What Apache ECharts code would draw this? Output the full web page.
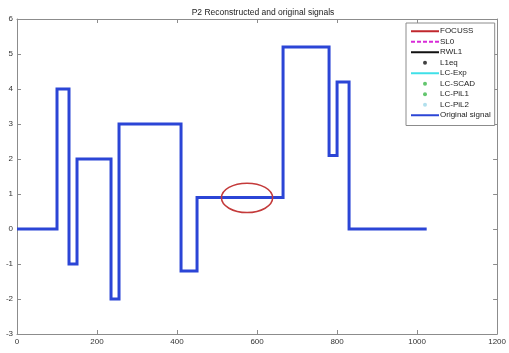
<!DOCTYPE html>
<html>
<head>
<meta charset="utf-8">
<script src="https://cdn.jsdelivr.net/npm/echarts@6/dist/echarts.min.js"></script>
<style>
  html, body { margin: 0; padding: 0; background: #fff; }
  #chart { width: 509px; height: 353px; }
</style>
</head>
<body>
<div id="chart"></div>
<script>
// Piecewise-constant test signal: each pair is (start of segment, level)
const stepStarts = [0, 100, 130, 150, 235, 255, 410, 450, 665, 780, 800, 830, 1024];
const stepLevels = [0, 4, -1, 2, -2, 3, -1.2, 0.9, 5.2, 2.1, 4.2, 0, 0];

// Highlight ring around the flat segment (centre and radii in data units)
const ringCenter = [575, 0.89];
const ringRadius = [64, 0.42];

// Legend entries, in display order
const methodNames = ['FOCUSS', 'SL0', 'RWL1', 'L1eq', 'LC-Exp', 'LC-SCAD', 'LC-PiL1', 'LC-PiL2', 'Original signal'];
const lineMethods = ['FOCUSS', 'SL0', 'RWL1', 'LC-Exp', 'Original signal'];

const xTicks = { min: 0, max: 1200, step: 200 };
const yTicks = { min: -3, max: 6, step: 1 };

const signal = stepStarts.map((x, i) => [x, stepLevels[i]]);

const font = 'Liberation Sans, Arial, sans-serif';
const axisGray = '#8c8c8c';
const labelColor = '#333';

function axisCommon(showLabels) {
  return {
    axisLine: { show: true, onZero: false, lineStyle: { color: axisGray, width: 1 } },
    axisTick: { show: true, inside: true, length: 4, lineStyle: { color: axisGray } },
    axisLabel: {
      show: showLabels, fontSize: 8, color: labelColor, fontFamily: font, margin: 4,
      formatter: v => String(v)
    },
    splitLine: { show: false }
  };
}

const chart = echarts.init(document.getElementById('chart'), null, { renderer: 'canvas' });

const option = {
  animation: false,
  backgroundColor: '#fff',
  title: {
    text: 'P2 Reconstructed and original signals',
    left: 258, top: 3, textAlign: 'center',
    textStyle: { fontSize: 8.5, fontWeight: 'normal', color: '#222', fontFamily: font }
  },
  grid: { left: 17, top: 19, right: 9, bottom: 19, containLabel: false },
  xAxis: [
    Object.assign({ type: 'value', min: xTicks.min, max: xTicks.max, interval: xTicks.step, position: 'bottom' }, axisCommon(true)),
    Object.assign({ type: 'value', min: xTicks.min, max: xTicks.max, interval: xTicks.step, position: 'top' }, axisCommon(false))
  ],
  yAxis: [
    Object.assign({ type: 'value', min: yTicks.min, max: yTicks.max, interval: yTicks.step, position: 'left' }, axisCommon(true)),
    Object.assign({ type: 'value', min: yTicks.min, max: yTicks.max, interval: yTicks.step, position: 'right' }, axisCommon(false))
  ],
  legend: {
    data: methodNames.map(n => lineMethods.indexOf(n) >= 0
      ? { name: n, itemStyle: { opacity: 0 } }
      : { name: n }),
    orient: 'vertical',
    left: 406, top: 23,
    width: 88,
    padding: [4, 4, 6, 4],
    itemWidth: 28, itemHeight: 4, itemGap: 2,
    backgroundColor: '#fff',
    borderColor: axisGray, borderWidth: 1, borderRadius: 0,
    selectedMode: false,
    textStyle: { fontSize: 8, color: '#222', fontFamily: font, padding: [0, 0, 0, -4], lineHeight: 8.5 }
  },
  series: [
    { name: 'FOCUSS', type: 'line', data: [], symbol: 'none', color: '#c0272d', lineStyle: { width: 2 } },
    { name: 'SL0', type: 'line', data: [], symbol: 'none', color: '#d82bd8', lineStyle: { width: 2, type: [4, 2] } },
    { name: 'RWL1', type: 'line', data: [], symbol: 'none', color: '#111', lineStyle: { width: 2 } },
    { name: 'L1eq', type: 'scatter', data: [], symbol: 'circle', symbolSize: 4, color: '#111' },
    { name: 'LC-Exp', type: 'line', data: [], symbol: 'none', color: '#3fe0e8', lineStyle: { width: 2 } },
    { name: 'LC-SCAD', type: 'scatter', data: [], symbol: 'circle', symbolSize: 3, color: '#3cb84a' },
    { name: 'LC-PiL1', type: 'scatter', data: [], symbol: 'circle', symbolSize: 3, color: '#3cb84a' },
    { name: 'LC-PiL2', type: 'scatter', data: [], symbol: 'circle', symbolSize: 3, color: '#9fd8e8' },
    {
      name: 'Original signal', type: 'line', step: 'end', data: signal,
      symbol: 'none', color: '#2b45d6',
      lineStyle: { width: 3, color: '#2b45d6', join: 'miter' },
      z: 5
    },
    {
      name: 'ring', type: 'custom', data: [ringCenter.concat(ringRadius)], z: 6, silent: true,
      renderItem: function (params, api) {
        const c = api.coord([api.value(0), api.value(1)]);
        const s = api.size([api.value(2), api.value(3)]);
        return {
          type: 'ellipse',
          shape: { cx: c[0], cy: c[1], rx: s[0], ry: s[1] },
          style: { fill: null, stroke: '#c43a3a', lineWidth: 1.5 }
        };
      }
    }
  ]
};

chart.setOption(option);
</script>
</body>
</html>
